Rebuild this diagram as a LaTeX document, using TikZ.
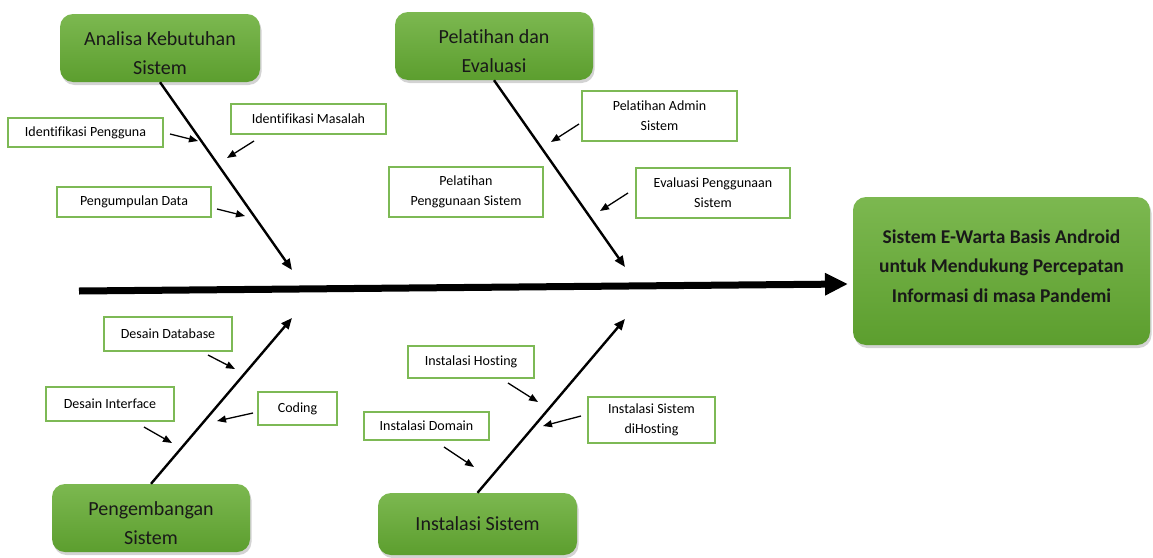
\documentclass[tikz,border=0pt]{standalone}
\usepackage{fontspec}
\setmainfont{Carlito}[Ligatures={NoCommon}]
\usetikzlibrary{arrows.meta,shadows}
\definecolor{boxtop}{RGB}{124,184,80}
\definecolor{boxbot}{RGB}{92,158,46}
\definecolor{lblgreen}{RGB}{125,185,85}
\definecolor{txtdark}{RGB}{25,25,25}
\newcommand{\toppad}{\rule{0pt}{24pt}}
\tikzset{
  bigbox/.style={rectangle, rounded corners=13pt, top color=boxtop, bottom color=boxbot,
    draw=none, drop shadow={opacity=0.35, shadow xshift=1.5pt, shadow yshift=-3pt},
    align=center, text=txtdark, font=\fontsize{20}{29}\selectfont, inner sep=0pt},
  lbl/.style={rectangle, draw=lblgreen, line width=1.2pt, fill=white, align=center,
    font=\fontsize{14}{20}\selectfont, text=black, inner sep=0pt},
  bone/.style={line width=2.4pt, -{Triangle[length=11pt,width=9pt]}},
  sub/.style={line width=1.3pt, -{Triangle[length=9pt,width=7pt]}},
  spine/.style={line width=7pt, -{Triangle[length=23pt,width=21pt]}}
}
\begin{document}
\begin{tikzpicture}[x=1pt,y=-1pt]
\useasboundingbox (0,0) rectangle (1153,557);

% main boxes
\node[bigbox, minimum width=200pt, minimum height=68pt] (A) at (160,48) {\toppad Analisa Kebutuhan\\Sistem};
\node[bigbox, minimum width=198pt, minimum height=68pt] (P) at (494,46) {\toppad Pelatihan dan\\Evaluasi};
\node[bigbox, minimum width=198pt, minimum height=68pt] (D) at (151,518) {\toppad Pengembangan\\Sistem};
\node[bigbox, minimum width=199pt, minimum height=62pt] (I) at (477.5,524) {Instalasi Sistem};
\node[bigbox, minimum width=297pt, minimum height=148pt, font=\fontsize{19.5}{29.5}\selectfont\bfseries] (R) at (1001.5,271)
  {Sistem E-Warta Basis Android\\untuk Mendukung Percepatan\\Informasi di masa Pandemi\rule[-10pt]{0pt}{10pt}};

% spine
\coordinate (s0) at (79,291);
\coordinate (s1) at (848,284);
\draw[spine] (s0) -- (s1);

% bones
\coordinate (b1) at (292,270);
\coordinate (b2) at (625,267);
\coordinate (b3) at (292,318);
\coordinate (b4) at (625,319);
\draw[bone] (A.south) -- (b1);
\draw[bone] (P.south) -- (b2);
\draw[bone] (D.north) -- (b3);
\draw[bone] (I.north) -- (b4);

% label boxes
\node[lbl, minimum width=155pt, minimum height=29pt] (l1) at (85.5,132.5) {Identifikasi Pengguna};
\node[lbl, minimum width=155pt, minimum height=30pt] (l2) at (308.5,119) {Identifikasi Masalah};
\node[lbl, minimum width=154pt, minimum height=30pt] (l3) at (134,202) {Pengumpulan Data};
\node[lbl, minimum width=155pt, minimum height=50pt] (l4) at (659.5,116) {Pelatihan Admin\\Sistem};
\node[lbl, minimum width=154pt, minimum height=50pt] (l5) at (466,192) {Pelatihan\\Penggunaan Sistem};
\node[lbl, minimum width=154pt, minimum height=50pt] (l6) at (713,193) {Evaluasi Penggunaan\\Sistem};
\node[lbl, minimum width=128pt, minimum height=34pt] (l7) at (168,334) {Desain Database};
\node[lbl, minimum width=128pt, minimum height=34pt] (l8) at (110,404) {Desain Interface};
\node[lbl, minimum width=79pt, minimum height=33pt] (l9) at (297.5,408.5) {Coding};
\node[lbl, minimum width=126pt, minimum height=32pt] (l10) at (471,362) {Instalasi Hosting};
\node[lbl, minimum width=125pt, minimum height=28pt] (l11) at (426.5,426) {Instalasi Domain};
\node[lbl, minimum width=127pt, minimum height=46pt] (l12) at (651.5,420) {Instalasi Sistem\\diHosting};

% sub arrows
\coordinate (a1s) at (170,134);  \coordinate (a1e) at (198,141);
\coordinate (a2s) at (254,141);  \coordinate (a2e) at (227,158);
\coordinate (a3s) at (217,209);  \coordinate (a3e) at (245,216);
\coordinate (a4s) at (579,124);  \coordinate (a4e) at (551,142);
\coordinate (a6s) at (628,193);  \coordinate (a6e) at (600,211);
\coordinate (a7s) at (208,355);  \coordinate (a7e) at (235,369);
\coordinate (a8s) at (144,427);  \coordinate (a8e) at (172,443);
\coordinate (a9s) at (253,413);  \coordinate (a9e) at (217,421);
\coordinate (a10s) at (508,383); \coordinate (a10e) at (538,402);
\coordinate (a12s) at (581,416); \coordinate (a12e) at (543,426);
\coordinate (a11s) at (444,447); \coordinate (a11e) at (474,467);
\foreach \n in {1,2,3,4,6,7,8,9,10,11,12}{
  \draw[sub] (a\n s) -- (a\n e);
}
\end{tikzpicture}
\end{document}
